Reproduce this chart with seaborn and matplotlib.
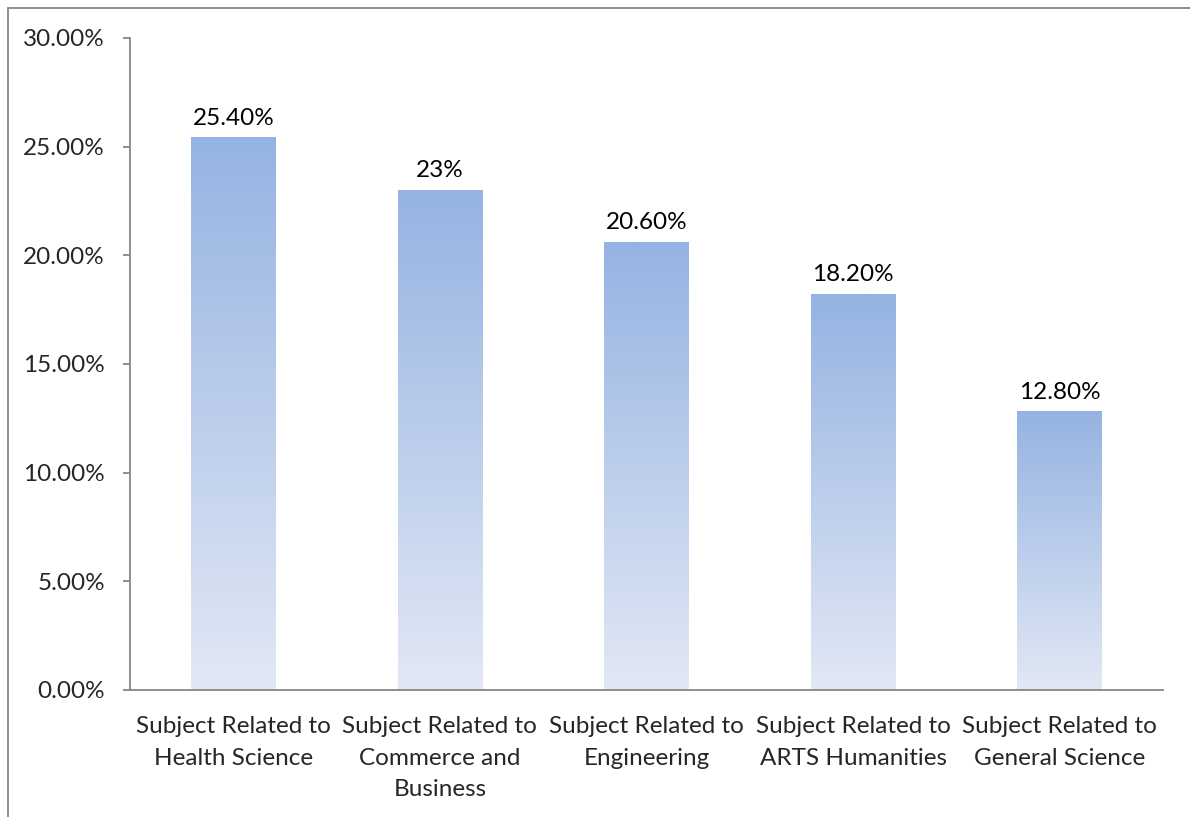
import numpy as np
import pandas as pd
import seaborn as sns
import matplotlib.pyplot as plt
from matplotlib.colors import LinearSegmentedColormap
from matplotlib.patches import Rectangle

categories = ["Subject Related to\nHealth Science",
              "Subject Related to\nCommerce and\nBusiness",
              "Subject Related to\nEngineering",
              "Subject Related to\nARTS Humanities",
              "Subject Related to\nGeneral Science"]
values = [25.4, 23.0, 20.6, 18.2, 12.8]
value_labels = ["25.40%", "23%", "20.60%", "18.20%", "12.80%"]

sns.set_style("white")
plt.rcParams['font.family'] = ['Lato', 'DejaVu Sans']

df = pd.DataFrame({"cat": categories, "val": values})

fig = plt.figure(figsize=(11.9, 8.17), dpi=100)
ax = fig.add_axes([130/1190, 1 - 690/817, (1163-130)/1190, (690-38)/817])

sns.barplot(data=df, x="cat", y="val", ax=ax, width=0.41, color="#95B3E2")

# vertical gradient inside each bar
cmap = LinearSegmentedColormap.from_list("grad", ["#E2E8F5", "#95B3E2"])
grad = np.linspace(0, 1, 256).reshape(-1, 1)
for p in ax.patches:
    x0, w, h = p.get_x(), p.get_width(), p.get_height()
    ax.imshow(grad, extent=[x0, x0 + w, 0, h], origin="lower", cmap=cmap,
              aspect="auto", zorder=2)
    p.set_facecolor("none")
    p.set_edgecolor("none")

fs = 17.5
for i, (v, lab) in enumerate(zip(values, value_labels)):
    ax.text(i, v + 0.42, lab, ha="center", va="bottom", fontsize=fs, color="black")

ax.set_xlim(-0.5, 4.5)
ax.set_ylim(0, 30)
ax.set_yticks(np.arange(0, 31, 5))
ax.set_yticklabels([f"{t:.2f}%" for t in np.arange(0, 31, 5)], fontsize=fs)
ax.set_xticks(range(len(categories)))
ax.set_xticklabels(categories, fontsize=fs, linespacing=1.62, va="top")
ax.set_xticks(np.arange(-0.5, 5, 1), minor=True)
ax.tick_params(axis="x", which="major", length=0, pad=19)
ax.tick_params(axis="x", which="minor", length=5, direction="out", color="#868686", width=1.3)
ax.tick_params(axis="y", length=5, direction="out", color="#868686", width=1.3, pad=13, left=True)
ax.set_xlabel("")
ax.set_ylabel("")

for s in ["top", "right"]:
    ax.spines[s].set_visible(False)
for s in ["left", "bottom"]:
    ax.spines[s].set_color("#868686")
    ax.spines[s].set_linewidth(1.3)

# outer chart border
fig.patches.append(Rectangle((8/1190, -0.1), 1.2, 1 - 8/817 + 0.1, transform=fig.transFigure,
                             fill=False, edgecolor="#868686", linewidth=1.3))

fig.savefig("out.png", dpi=100)
